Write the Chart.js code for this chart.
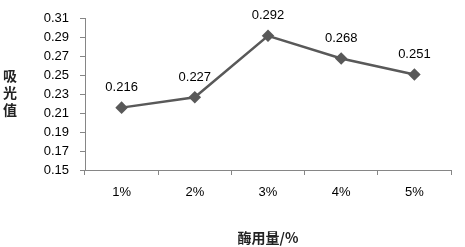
<!DOCTYPE html>
<html>
<head>
<meta charset="utf-8">
<script src="https://cdn.jsdelivr.net/npm/chart.js@4/dist/chart.umd.min.js"></script>
<style>
  body { margin: 0; background: #fff; }
  #box { width: 465px; height: 247px; }
</style>
</head>
<body>
<div id="box"><canvas id="myGraph" width="465" height="247"></canvas></div>
<script>
// Datos del gráfico
const dosage = ["1%", "2%", "3%", "4%", "5%"];
const absorbance = [0.216, 0.227, 0.292, 0.268, 0.251];
const yTicks = [0.15, 0.17, 0.19, 0.21, 0.23, 0.25, 0.27, 0.29, 0.31];
const xTitle = "酶用量/%";
const yTitle = ["吸", "光", "值"];

const axisColor = "#868686";
const lineColor = "#595959";
const textFont = "13px 'Liberation Sans', Arial, sans-serif";
const cjkFont = "bold 14px 'Noto Sans CJK SC', sans-serif";

// Etiquetas de valor encima de cada punto
const valueLabels = {
    id: "valueLabels",
    afterDatasetsDraw(chart) {
        const ctx = chart.ctx;
        const meta = chart.getDatasetMeta(0);
        ctx.save();
        ctx.font = textFont;
        ctx.fillStyle = "#000";
        ctx.textAlign = "center";
        ctx.textBaseline = "middle";
        meta.data.forEach((pt, i) => {
            ctx.fillText(absorbance[i].toFixed(3), pt.x, pt.y - 20);
        });
        ctx.restore();
    },
};

// Títulos de los ejes (el del eje Y va en vertical, carácter a carácter)
const axisTitles = {
    id: "axisTitles",
    afterDraw(chart) {
        const ctx = chart.ctx;
        const area = chart.chartArea;
        ctx.save();
        ctx.font = cjkFont;
        ctx.fillStyle = "#222";
        ctx.textAlign = "center";
        ctx.textBaseline = "middle";
        ctx.fillText(xTitle, (area.left + area.right) / 2, 238);
        yTitle.forEach((ch, i) => {
            ctx.fillText(ch, 10, 76 + i * 17);
        });
        ctx.restore();
    },
};

const ctx = document.getElementById("myGraph").getContext("2d");

const myGraph = new Chart(ctx, {
    type: "line",
    data: {
        labels: dosage,
        datasets: [
            {
                data: absorbance,
                borderColor: lineColor,
                backgroundColor: lineColor,
                borderWidth: 2.5,
                pointStyle: "rectRot",
                pointRadius: 4.5,
                pointHoverRadius: 4.5,
                tension: 0,
            },
        ],
    },
    options: {
        responsive: false,
        animation: false,
        events: [],
        layout: { padding: { top: 17, right: 14, left: 0, bottom: 0 } },
        plugins: {
            legend: { display: false },
            tooltip: { enabled: false },
        },
        scales: {
            x: {
                offset: true,
                grid: {
                    offset: true,
                    drawOnChartArea: false,
                    tickLength: 5,
                    color: axisColor,
                },
                border: { color: axisColor, width: 1 },
                ticks: { color: "#000", font: { family: "'Liberation Sans', Arial", size: 13 }, padding: 10, maxRotation: 0 },
                afterFit: (s) => { s.height = 77; },
            },
            y: {
                min: yTicks[0],
                max: yTicks[yTicks.length - 1],
                afterBuildTicks: (s) => { s.ticks = yTicks.map((v) => ({ value: v })); },
                grid: {
                    drawOnChartArea: false,
                    tickLength: 5,
                    color: axisColor,
                },
                border: { color: axisColor, width: 1 },
                ticks: {
                    color: "#000",
                    font: { family: "'Liberation Sans', Arial", size: 13 },
                    padding: 11,
                    callback: (v) => Number(v).toFixed(2),
                },
                afterFit: (s) => { s.width = 85; },
            },
        },
    },
    plugins: [valueLabels, axisTitles],
});
</script>
</body>
</html>
